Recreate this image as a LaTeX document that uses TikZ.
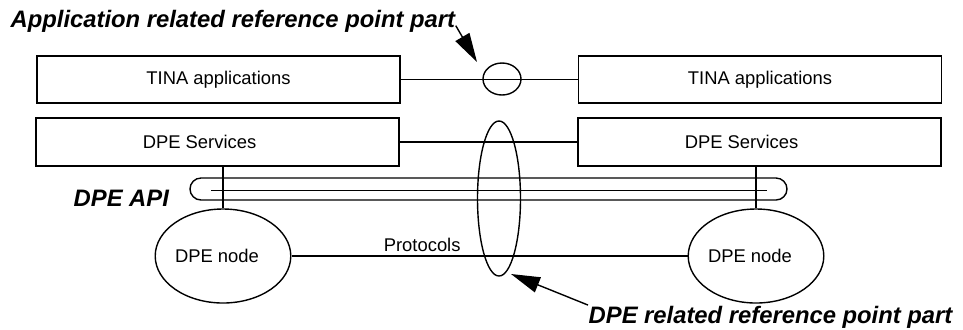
\documentclass[tikz,border=0pt]{standalone}
\usepackage{fontspec}
\setmainfont{Liberation Sans}
\usetikzlibrary{shapes.geometric,arrows.meta}
\begin{document}
\begin{tikzpicture}[x=0.5pt,y=-0.5pt,line width=0.7pt,
  box/.style={draw,rectangle,minimum width=181.5pt,minimum height=23.5pt,inner sep=0pt,font=\fontsize{9.2}{11}\selectfont},
  dpenode/.style={draw,ellipse,minimum width=65pt,minimum height=47pt,inner sep=0pt,font=\fontsize{9.2}{11}\selectfont},
  refpt/.style={draw,ellipse,inner sep=0pt},
  lbl/.style={inner sep=0pt,anchor=base west,font=\fontsize{11.9}{14}\selectfont\bfseries\itshape},
  pointer/.style={-{Triangle[length=14.5pt,width=8pt]}}]
\useasboundingbox (0,0) rectangle (963,329);

\node[box] (tinaL) at (218.5,79.5) {TINA applications};
\node[box] (tinaR) at (760,79.5) {TINA applications};
\node[box,minimum height=24pt] (servL) at (217.5,142) {DPE Services\hspace*{18pt}};
\node[box,minimum height=24pt] (servR) at (759.5,142) {DPE Services\hspace*{18pt}};

\node[dpenode] (nodeL) at (223,256) {DPE node\hspace*{6pt}};
\node[dpenode] (nodeR) at (756,256) {DPE node\hspace*{6pt}};

\node[refpt,minimum width=19pt,minimum height=16pt] (apppt) at (502,79) {};
\node[refpt,minimum width=21.5pt,minimum height=77.5pt] (dpept) at (499,198.5) {};

\draw (tinaL) -- (tinaR);
\draw (servL) -- (servR);
\draw (nodeL) -- node[above,pos=0.33,inner sep=2pt,font=\fontsize{9.2}{11}\selectfont] {Protocols} (nodeR);

\draw (201,178) -- (776,178) arc [start angle=-90,end angle=90,radius=11]
  -- (201,200) arc [start angle=90,end angle=270,radius=11] -- cycle;
\draw (211,190.5) -- (767,190.5);

\draw (nodeL.north) -- (nodeL.north |- servL.south);
\draw (nodeR.north) -- (nodeR.north |- servR.south);

\node[lbl] (applbl) at (10,27) {Application related reference point part};
\node[lbl] (apilbl) at (73,206.5) {DPE API};
\node[lbl] (dpelbl) at (588,323) {DPE related reference point part};

\coordinate (apptip) at (477,62);
\coordinate (dpetip) at (511,274);
\draw[pointer] ([yshift=3.5pt]applbl.south east) -- (apptip);
\draw[pointer] (dpelbl.north west) -- (dpetip);

\end{tikzpicture}
\end{document}
